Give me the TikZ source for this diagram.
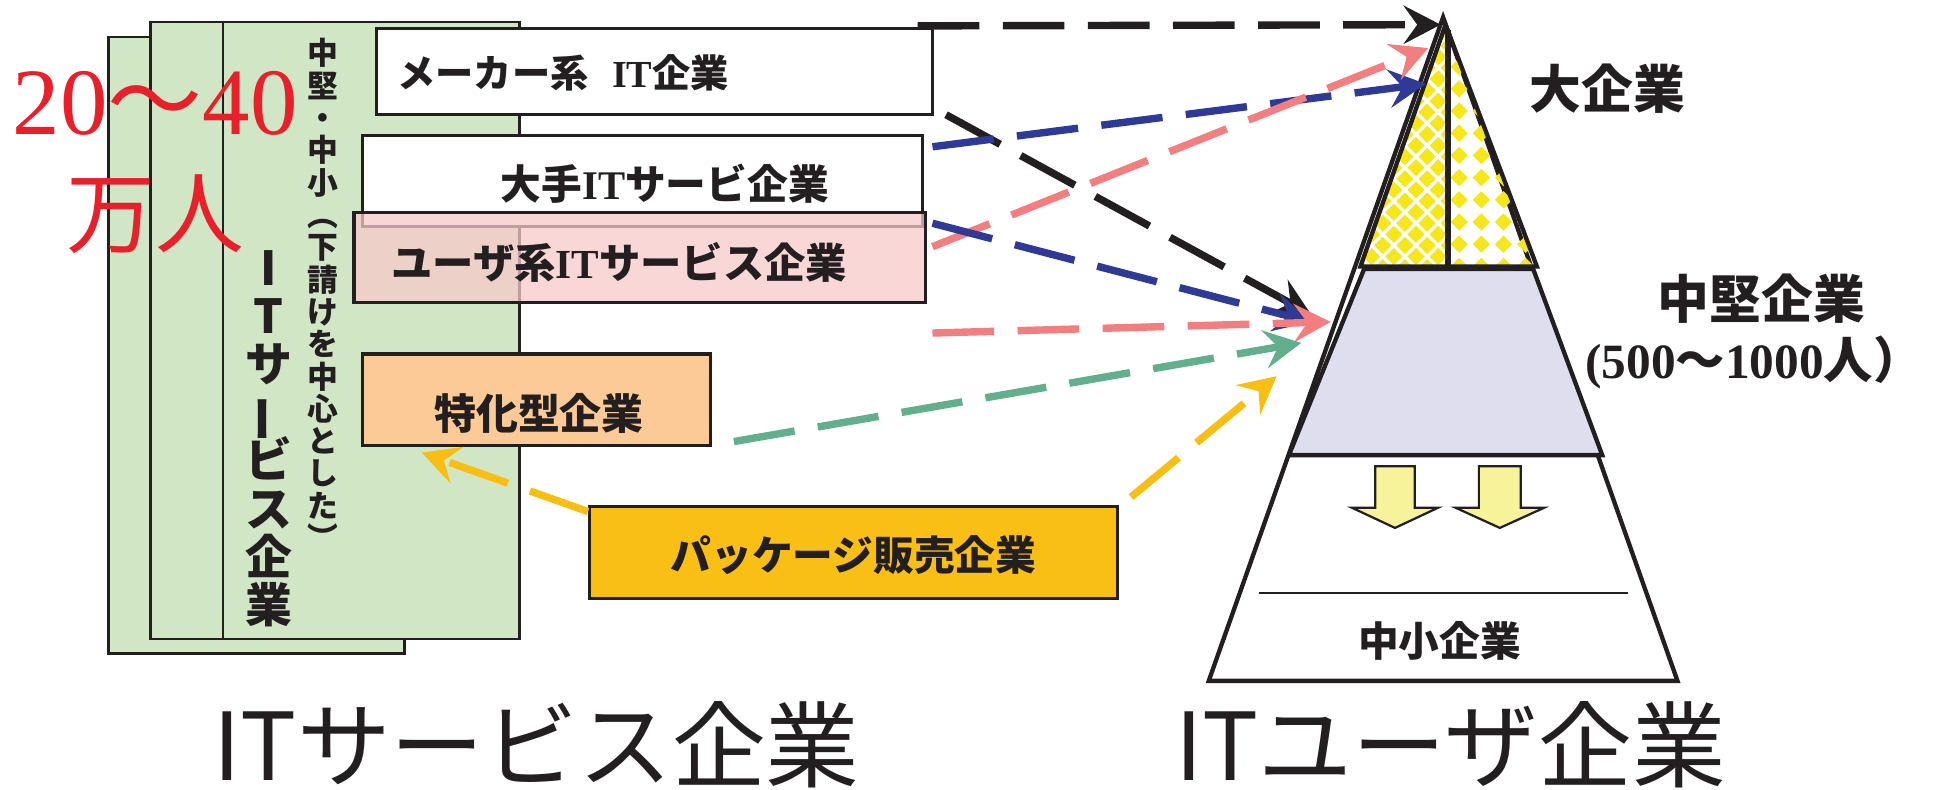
\documentclass[tikz,border=0pt]{standalone}
\usepackage{fontspec}
\usepackage{graphicx}
\setmainfont{Liberation Serif}
\newfontfamily\jp{Noto Sans CJK JP}
\newfontfamily\ser{Liberation Serif}
\usetikzlibrary{arrows.meta,calc}
\newcommand\myfs[1]{\fontsize{#1}{#1}\selectfont}
\definecolor{gfill}{HTML}{D0E6C5}
\definecolor{redt}{HTML}{E8202A}
\definecolor{pinkbox}{HTML}{F7C9C9}
\definecolor{orgbox}{HTML}{FCCA96}
\definecolor{pkgbox}{HTML}{F9BF14}
\definecolor{lav}{HTML}{DEDEEF}
\definecolor{yelpat}{HTML}{F6E71A}
\definecolor{dnarr}{HTML}{F7F39A}
\definecolor{ablack}{HTML}{231F20}
\definecolor{ablue}{HTML}{2E3A96}
\definecolor{apink}{HTML}{F37E80}
\definecolor{agreen}{HTML}{62AF8E}
\definecolor{ayel}{HTML}{F9BE14}
\tikzset{
 grect/.style={fill=gfill, draw=ablack, line width=2pt},
 boxn/.style={draw=ablack, line width=2.5pt, inner sep=0pt},
 lbl/.style={inner sep=0pt, text=ablack},
 darr/.style={line width=6pt, dash pattern=on 50pt off 19pt, -{Stealth[length=30pt,width=31pt,inset=11pt]}},
 pyr/.style={draw=ablack, line width=3.5pt},
 dnar/.style={fill=dnarr, draw=ablack, line width=1.8pt},
}
\begin{document}
\begin{tikzpicture}[x=1pt,y=-1pt]
\useasboundingbox (0,0) rectangle (1568,640);
% green stacked sheets
\draw[grect] (88,30) rectangle (328,530);
\draw[grect] (122,18) rectangle (421,518);
\draw[grect] (181,18) rectangle (421,518);
% red numbers
\node[inner sep=0pt, text=redt, anchor=base west] (num) at (10,109) {\ser\myfs{77}20{\jp ～}40};
\node[inner sep=0pt, text=redt, anchor=base] (man) at (126,200) {\jp\myfs{72}万人};
% vertical texts
\node[lbl, anchor=north, align=center, font=\jp\bfseries\fontsize{25}{26.2}\selectfont] (sub) at (262,31)
 {中\\堅\\・\\中\\小\\︵\\下\\請\\け\\を\\中\\心\\と\\し\\た\\︶};
\node[lbl, anchor=north, align=center, font=\jp\bfseries\fontsize{38}{39}\selectfont] (itsv) at (218,203)
 {I\\T\\サ\\\smash{\rotatebox[origin=c]{90}{ー}}\\ビ\\ス\\企\\業};
% boxes
\node[boxn, fill=white, minimum width=451pt, minimum height=70pt] (maker) at (530.5,58) {};
\node[boxn, fill=white, minimum width=454pt, minimum height=74pt] (taite) at (521,147) {};
\node[boxn, fill=pinkbox, fill opacity=0.75, minimum width=463pt, minimum height=73pt] (user) at (518.5,208.5) {};
\node[boxn, fill=orgbox, minimum width=282pt, minimum height=74pt] (tokka) at (435,324) {};
\node[boxn, fill=pkgbox, minimum width=428pt, minimum height=74pt] (pkg) at (692,448) {};
\node[lbl, anchor=west] (makerT) at (322,59) {\myfs{31}{\jp\bfseries メーカー系}\hspace{19pt}{\ser\bfseries IT}{\jp\bfseries 企業}};
\node[lbl] (taiteT) at (539,149) {\myfs{33}{\jp\bfseries 大手}{\ser\bfseries IT}{\jp\bfseries サービ企業}};
\node[lbl] (userT) at (502,213) {\myfs{33.5}{\jp\bfseries ユーザ系}{\ser\bfseries IT}{\jp\bfseries サービス企業}};
\node[lbl] (tokkaT) at (437,335) {\jp\bfseries\myfs{34}特化型企業};
\node[lbl] (pkgT) at (692,450) {\jp\bfseries\myfs{33}パッケージ販売企業};
% pyramid
\coordinate (apex) at (1170,14);
\coordinate (bl) at (980,552);
\coordinate (br) at (1360,552);
\draw[pyr, fill=white] (apex) -- (bl) -- (br) -- cycle;
\coordinate (ya) at (1172,20);
\coordinate (yl) at (1103,216);
\coordinate (yr) at (1246,216);
\begin{scope}
 \clip (ya) -- (yl) -- (1174,216) -- (1174,20) -- cycle;
 \foreach \i in {0,...,9} {\foreach \j in {0,...,12} {
  \fill[yelpat] (1094+18*\i,10+18*\j) +(0,-7) -- +(7,0) -- +(0,7) -- +(-7,0) -- cycle;
  \fill[yelpat] (1103+18*\i,19+18*\j) +(0,-7) -- +(7,0) -- +(0,7) -- +(-7,0) -- cycle;
 }}
\end{scope}
\begin{scope}
 \clip (1174,20) -- (1174,216) -- (yr) -- (ya) -- cycle;
 \foreach \i in {0,...,5} {\foreach \j in {0,...,12} {
  \fill[yelpat] (1183+18*\i,18+18*\j) +(0,-7) -- +(7,0) -- +(0,7) -- +(-7,0) -- cycle;
 }}
\end{scope}
\draw[pyr] (ya) -- (yl) -- (yr) -- cycle;
\draw[pyr, fill=lav] (1106,218) -- (1243,218) -- (1299,369) -- (1045,369) -- cycle;
\draw[ablack, line width=4.5pt] (1174,24) -- (1174,216);
\draw[dnar] (1115,378) -- (1147,378) -- (1147,411.6) -- (1166,411.6) -- (1131,428) -- (1096,411.6) -- (1115,411.6) -- cycle;
\draw[dnar] (1199,378) -- (1233,378) -- (1233,411.6) -- (1252,411.6) -- (1216,428) -- (1180,411.6) -- (1199,411.6) -- cycle;
\draw[ablack, line width=1.5pt] (1021,481) -- (1320,481);
\node[lbl] (large) at (1303,72) {\jp\bfseries\myfs{42}大企業};
\node[lbl] (mid) at (1428,242) {\jp\bfseries\myfs{42}中堅企業};
\node[lbl] (midn) at (1422,294) {\myfs{40}{\ser\bfseries (500}{\jp\bfseries ～}{\ser\bfseries 1000}{\jp\bfseries 人）}};
\node[lbl] (small) at (1167,520) {\jp\bfseries\myfs{33}中小企業};
% titles
\node[lbl] (t1) at (435,604) {\jp\myfs{76}ITサービス企業};
\node[lbl] (t2) at (1176,604) {\jp\myfs{76}ITユーザ企業};
% connector end points
\coordinate (bkS1) at (744,21);  \coordinate (bkE1) at (1168,20);
\coordinate (bkS2) at (767,93);  \coordinate (bkE2) at (1063,255);
\coordinate (blS1) at (756,119); \coordinate (blE1) at (1156,68);
\coordinate (blS2) at (756,181); \coordinate (blE2) at (1063,261);
\coordinate (pkS1) at (756,200); \coordinate (pkE1) at (1158,39);
\coordinate (pkS2) at (756,270); \coordinate (pkE2) at (1079,261);
\coordinate (grS) at (595,358);  \coordinate (grE) at (1055,278);
\coordinate (yeS2) at (917,403); \coordinate (yeE2) at (1035,305);
\coordinate (yeE1) at (342,367);
% arrows
\draw[darr, draw=ablack] (bkS1) -- (bkE1);
\draw[darr, draw=ablack] (bkS2) -- (bkE2);
\draw[darr, draw=ablue] (blS1) -- (blE1);
\draw[darr, draw=apink] (pkS1) -- (pkE1);
\draw[darr, draw=ablue] (blS2) -- (blE2);
\draw[darr, draw=apink] (pkS2) -- (pkE2);
\draw[darr, draw=agreen] (grS) -- (grE);
\draw[darr, draw=ayel] (yeS2) -- (yeE2);
\draw[darr, draw=ayel] ($(pkg.north west)+(0,5)$) -- (yeE1);
\end{tikzpicture}
\end{document}
